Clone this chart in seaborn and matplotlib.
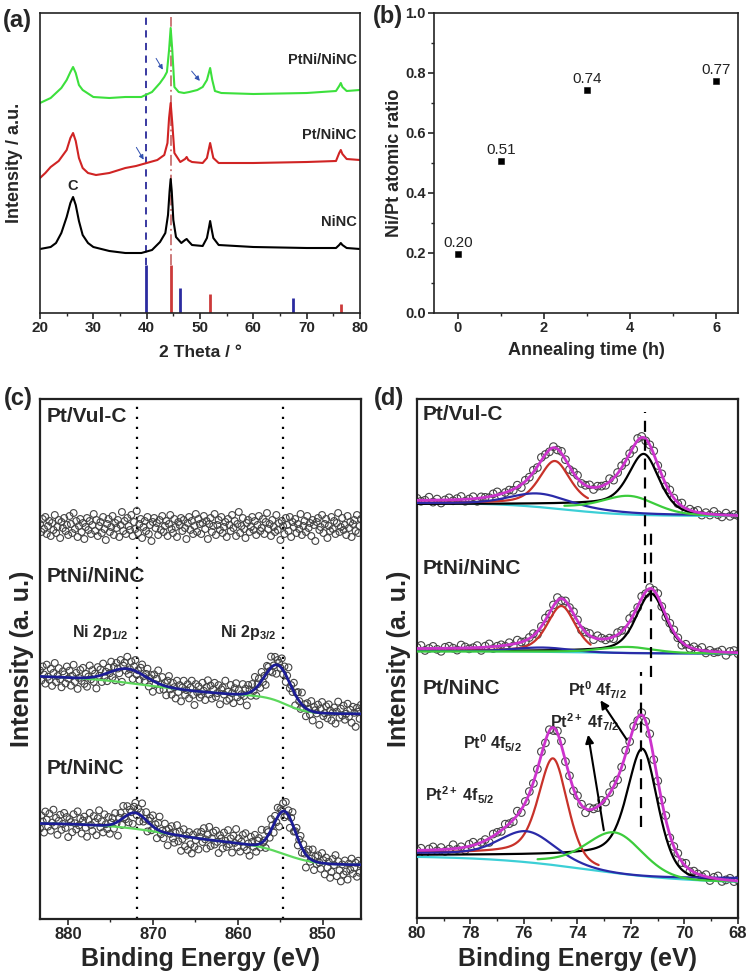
import numpy as np
import matplotlib
matplotlib.use("Agg")
import matplotlib.pyplot as plt
from matplotlib.ticker import MultipleLocator, FormatStrFormatter
import seaborn as sns

sns.set_style("ticks")
plt.rcParams['font.family'] = ['Liberation Sans', 'DejaVu Sans']
plt.rcParams['font.weight'] = 'bold'
plt.rcParams['axes.labelweight'] = 'bold'
plt.rcParams['mathtext.fontset'] = 'custom'
plt.rcParams['mathtext.rm'] = 'Liberation Sans:bold'
plt.rcParams['mathtext.bf'] = 'Liberation Sans:bold'
plt.rcParams['mathtext.it'] = 'Liberation Sans:bold:italic'

# ---------------- (a) XRD patterns ----------------
tt_ninc = [20, 22, 23, 24, 25, 25.7, 26.2, 26.7, 27.3, 28, 29, 30, 33, 36, 39, 41, 42.5, 43.5, 44.0, 44.3,
           44.5, 44.7, 45.0, 45.5, 46.5, 47.2, 47.5, 47.8, 48.5, 50.5, 51.3, 51.7, 51.9, 52.1, 52.5, 53.5,
           60, 70, 75.5, 76.1, 76.4, 76.7, 77.5, 80]
i_ninc = [64, 66, 70, 80, 96, 110, 116, 108, 92, 78, 70, 66, 62, 60, 60, 63, 71, 80, 98, 122,
          134, 122, 93, 76, 70, 73, 74, 72, 68, 67, 75, 86, 92, 86, 75, 68,
          66, 65, 65, 68, 70, 68, 65, 64]

tt_ptninc = [20, 21, 22, 23.5, 25, 25.7, 26.2, 26.7, 27.3, 28, 29, 30.5, 33, 36, 38, 40, 42, 43.3, 43.9, 44.2,
             44.5, 44.8, 45.2, 46.3, 47.2, 47.5, 47.8, 48.5, 50.5, 51.3, 51.7, 51.9, 52.1, 52.5, 53.5,
             60, 70, 75.5, 76.1, 76.4, 76.7, 77.5, 80]
i_ptninc = [135, 140, 146, 152, 163, 175, 180, 172, 155, 145, 140, 138, 140, 145, 147, 150, 153, 158, 170, 195,
            210, 190, 160, 151, 154, 156, 153, 151, 150, 155, 165, 170, 165, 155, 150,
            150, 151, 152, 160, 163, 159, 154, 153]

tt_ptni = [20, 22, 24, 25, 25.7, 26.2, 26.7, 27.3, 28, 30, 33, 36, 39, 41, 42.5, 43.3, 43.8, 44.2, 44.5, 44.8,
           45.2, 46, 47, 48, 49.5, 50.5, 51.3, 51.9, 52.3, 52.8, 54, 60, 70, 75.5, 76.1, 76.4, 76.7, 77.5, 80]
i_ptni = [210, 215, 225, 233, 241, 246, 240, 228, 223, 216, 215, 216, 216, 221, 230, 236, 241, 263, 285, 263,
          226, 221, 220, 221, 223, 226, 233, 245, 233, 222, 220, 219, 220, 222, 227, 230, 226, 222, 223]

pt_ref_pos = [39.8, 46.2, 67.5]
pt_ref_int = [48, 25, 15]
ni_ref_pos = [44.5, 51.9, 76.4]
ni_ref_int = [48, 19, 9]

# ---------------- (b) Ni/Pt ratio ----------------
anneal_h = [0, 1, 3, 6]
ni_pt_ratio = [0.195, 0.505, 0.742, 0.772]
ratio_text = ["0.20", "0.51", "0.74", "0.77"]

# ---------------- (c) Ni 2p ----------------
vulc_ni_level = 392
vulc_ni_res = [3, -5, 8, -2, 10, -7, 1, 6, -9, 4, -3, 12, -6, 0, 7, -11, 5, -1, 9, -4, 2, -8, 11, 3, -6, 14, -2, 6,
               -10, 1, 8, -5, 4, -12, 0, 9, -3, 6, -7, 2, 13, -4, 7, -9, 1, 5, -6, 10, -2, -13, 3, 8, -5, 0, 11, -8,
               4, -1, 7, -10, 2, 15, -4, 6, -7, 9, 1, -3, 12, -9, 5, -2, 16, -6, 3, 8, -11, 0, 6, -4, 10, -7, 2,
               -14, 5, 9, -1, 4, -8, 7, -3, 11, -5, 1, 6, -9, 3, 12, -2, -6, 8, 0, -10, 5, 2, 9, -4, 7, -1, -12, 4,
               10, -3, 6, -7, 1, 13, -5, 8, 3,
               -7, 4, 11, -2, 6, -12, 3, 9, -5, 1, 13, -8, 2, 7, -3, 10, -6, 0, 5, -10, 8, 2, -4, 12, -1, 6, -9, 3,
               15, -6, 1, 9, -2, -11, 4, 7, -5, 0, 10, -3, 6, -8, 2, 11, -4, -1, 8, -7, 5, 14, -2, 3, -9, 7, 0, -5,
               12, -3, 4, -13, 6, 1, -7, 9, 2, -4, 10, -10, 5, 0, 8, -6, 3, -2, 13, -8, 1, 6, -5, 11, -1, 4, -9, 7,
               2, -14, 5, 9, -3, 0, 12, -6, 3, 8, -11, 1, -4, 10, -2, 6, -7, 4, 14, -5, 0, 9, -3, 2, -8, 11, -1, 5,
               -10, 3, 7, -4, 12, -6, 1, 8]
ptni_ni_bg_right = 205
ptni_ni_bg_steps = [[22, 870, 5], [17, 854.3, 1.2]]     # size, centre, width
ptni_ni_peaks = [[855.3, 36, 3.5], [873.0, 14, 5.0]]    # centre, height, fwhm
ptni_ni_res = [6, -4, 10, 2, -7, 12, 0, -3, 8, -9, 4, 14, -5, 1, 9, -2, -10, 6, 3, -6, 11, -1, 7, -8, 2, 13, -4, 5,
               -11, 0, 8, -3, 10, -6, 4, -9, 1, 12, -2, 7, -5, 3, -12, 9, 0, 6, -7, 11, -3, 2, -8, 5, -1, 10, -6, 4,
               -10, 7, 1, -4, 9, -13, 3, 6, -2, 12, -5, 0, 8, -9, 4, 11, -3, 2, -7, 6, 10, -1, -5, 3, 9, -8, 1, 5,
               -11, 7, -2, 4, 13, -6, 0, 8, -4, 3, -9, 6, 11, -2, -7, 5, 1, -10, 8, -3, 4, -12, 2, 9, -5, 0, 6, -8,
               3, 10, -4, -14, 7, -1, 5, -6,
               -3, 9, 1, -8, 5, 12, -2, 7, -6, 3, 10, -4, 0, 8, -11, 4, 6, -1, 13, -7, 2, -5, 9, 1, -9, 6, 11, -3,
               4, -7, 0, 10, -2, 5, -12, 8, 3, -4, 7, -1, 12, -8, 2, 6, -5, 9, -3, 1, -10, 7, 4, -2, 11, -6, 0, 8,
               -9, 5, 3, -1, 10, -4, 6, -7, 2, 13, -5, 1, -3, 9, -11, 4, 7, 0, -6, 12, -2, 3, -8, 6, 1, -4, 10, -9,
               5, 2, -1, 8, -12, 4, 11, -3, 0, 7, -5, 9, 3, -7, 1, 6, -10, 2, 12, -4, 5, -2, 8, -6, 0, 10, -3, 4,
               -9, 7, 1, -13, 6, 2, -5, 9]
ptnc_ni_bg_right = 54
ptnc_ni_bg_steps = [[22, 868, 4], [20, 854.5, 1.8]]
ptnc_ni_peaks = [[854.5, 43, 3.0], [872.1, 16, 3.2]]
ptnc_ni_res = [-5, 8, 2, -9, 12, 4, -3, 10, -7, 1, 14, -2, 6, -11, 3, 9, -6, 0, 11, -4, 7, -13, 5, 2, -8, 10, 1, -5,
               13, -1, 6, -9, 4, 8, -3, -12, 5, 12, 0, -6, 9, 3, -10, 7, 15, -2, 4, -7, 11, 1, -4, 8, -9, 2, 6, -5,
               10, -1, -14, 3, 7, -6, 12, 0, -3, 9, -8, 4, 1, -11, 6, 10, -2, 5, -7, 3, 13, -4, 0, 8, -10, 2, 6, -5,
               11, -1, 4, -9, 7, 14, -3, 1, -6, 9, 3, -12, 5, 0, 8, -4, -8, 2, 10, -6, 4, -15, -3, 7, -10, 1, -13,
               5, -7, -16, 3, -9, -2, 6, -11, 2,
               7, -3, 11, 0, -9, 5, 13, -6, 2, 8, -4, 10, -1, -12, 6, 3, -7, 9, 1, -5, 12, -2, 4, -10, 7, 0, 14, -4,
               5, -8, 2, 9, -3, 11, -6, 1, -11, 8, 3, -2, 10, -7, 4, 6, -4, 13, -1, 0, -9, 7, 3, -5, 11, 2, -8, 6,
               -3, 9, -12, 4, 1, 8, -6, 10, -2, 5, -10, 3, 12, -4, 0, 7, -7, 2, 9, -5, 6, -1, -13, 4, 8, -3, 1, 11,
               -9, 5, -2, 7, 0, -6, 10, 3, -11, 6, -4, 2, -14, -8, 5, -1, 9, -12, 3, -6, -17, 0, -10, 4, -7, -15, 1,
               -5, 6, -9, -3, 2, -12, 4, -8, 0]
ni_guides = [871.9, 854.7]

# ---------------- (d) Pt 4f ----------------
# background: [right level, step, centre, width]; peak: [centre, height, fwhm, lorentz share]
# component order: Pt0 4f7/2, Pt0 4f5/2, Pt2+ 4f5/2, Pt2+ 4f7/2
vulc_pt_bg = [402, 13, 74.5, 1.2]
vulc_pt_env_bg = [401, 16, 71.3, 0.6]
vulc_pt_peaks = [[71.5, 56, 1.35, 0.45], [74.85, 43, 1.35, 0.45], [75.5, 11, 2.4, 0.2], [72.0, 15, 2.2, 0.2]]
vulc_pt_comp_bg = [[402, 12, 71.5, 0.45], [413, 2, 74.85, 0.45], [403, 12, 73.5, 1.0], [402, 10, 72.0, 0.9]]
vulc_pt_span = [[68, 80], [73.6, 80], [68, 80], [68, 74.5]]
vulc_pt_res = [2, -1, 0, 3, -2, 1, -3, 0, 2, -1, 1, 3, -2, 0, 2, -3, 1, 0, -1, 2, 3, -2, 0, 1, -1, 2, -3, 1, 0, 2,
               -1, 3, 0, -2, 1, -1, 2, 0, -3, 1, 3, -1, 0, 2, -2, 1, 0, -1, 3, -2, 1, 2, -1, 0, -3, 2, 1, -2, 0, 3,
               -1, 1, -2, 2, 0, -1, 3, -3, 1, 0, 2, -2, 1, -1, 3, 0, -2, 2, -1, 1, 0]

ptni_pt_bg = [264.5, 2.5, 74.0, 1.5]
ptni_pt_env_bg = [264, 5, 71.3, 0.6]
ptni_pt_peaks = [[71.25, 58.7, 1.3, 0.45], [74.6, 46, 1.25, 0.45], [75.3, 4, 2.4, 0.2], [72.1, 5.5, 2.2, 0.2]]
ptni_pt_comp_bg = [[264.5, 2.5, 71.25, 0.45], [265, 2, 74.6, 0.45], [264.5, 2.5, 74.0, 1.0], [264.5, 2, 72.0, 0.9]]
ptni_pt_span = [[68, 80], [73.5, 80], [68, 80], [68, 80]]
ptni_pt_res = [1, 3, -2, 0, 2, -1, -3, 1, 2, 0, -2, 3, 1, -1, 0, 2, -3, 1, 3, -2, 0, 1, -1, 2, -2, 3, 0, -1, 1, 2,
               -3, 0, 2, -1, 1, 3, -2, 0, -1, 2, 1, -3, 0, 2, -2, 3, 1, -1, 0, -2, 2, 1, -3, 3, 0, -1, 2, -2, 1, 0,
               3, -1, -2, 1, 2, 0, -3, 1, -1, 2, 0, 3, -2, 1, -1, 0, 2, -3, 1, 2, -1]

ptnc_pt_bg = [35, 27, 73.6, 1.9]
ptnc_pt_env_bg = [34, 32, 71.0, 0.6]
ptnc_pt_peaks = [[71.55, 120, 1.35, 0.45], [74.9, 104, 1.3, 0.45], [75.9, 25, 2.3, 0.2], [72.55, 38, 2.4, 0.2]]
ptnc_pt_comp_bg = [[35, 28, 71.55, 0.45], [46, 19, 74.9, 0.45], [40, 25, 74.0, 1.0], [36, 22, 72.5, 0.9]]
ptnc_pt_span = [[68, 80], [73.2, 80], [68, 80], [68, 75.5]]
ptnc_pt_res = [0, 2, -3, 1, 3, -1, 2, -2, 0, 4, -1, 1, -3, 2, 3, -2, 0, 1, -4, 2, 1, -1, 3, 0, -2, 4, -3, 1, 2, -1,
               0, 3, -2, 1, -3, 2, 4, -1, 0, -2, 3, 1, -4, 2, 0, -1, 3, -3, 1, 2, -2, 0, 4, -1, 1, -3, 2, 0, 3, -2,
               -1, 1, 4, -3, 0, 2, -1, 3, -2, 1, 0, -1, 2, -3, 1, 3, -2, 0, 2, -1, 1]

# dashed guides in (d): x, y from, y to
pt_guides = [[71.48, 335, 506], [71.25, 241, 391], [71.63, 91, 246]]

comp_colors = ['black', '#c8322a', '#2a2aa8', '#3ccc3c']


def sig(x, p):
    right, size, c, w = p
    return right + size / (1 + np.exp(-(x - c) / w))


def pv(x, p):
    c, h, fwhm, eta = p
    r2 = ((x - c) / fwhm) ** 2
    return h * ((1 - eta) * np.exp(-4 * np.log(2) * r2) + eta / (1 + 4 * r2))


def ni_bg(x, right, steps):
    y = np.full(len(x), float(right))
    for size, c, w in steps:
        y = y + size / (1 + np.exp(-(x - c) / w))
    return y


def ni_fit(x, right, steps, peaks):
    y = ni_bg(x, right, steps)
    for c, h, f in peaks:
        y = y + pv(x, [c, h, f, 0.0])
    return y


def open_circles(ax, x, y, ms=26):
    sns.scatterplot(x=x, y=y, ax=ax, s=ms, marker='o', color='#555555', linewidth=0.8, zorder=2)
    ax.collections[-1].set_facecolor('none')
    ax.collections[-1].set_edgecolor('#444444')


W, H = 751, 980
fig = plt.figure(figsize=(W / 100, H / 100), dpi=100)


def box(l, t, r, b):
    return [l / W, 1 - b / H, (r - l) / W, (b - t) / H]


ax_a = fig.add_axes(box(40, 13, 360, 313))
ax_b = fig.add_axes(box(434, 13, 738, 313))
ax_c = fig.add_axes(box(40, 399, 361, 919))
ax_d = fig.add_axes(box(417, 399, 738, 918))

# ---------- (a) ----------
ax = ax_a
ax.vlines(pt_ref_pos, 0, pt_ref_int, color='#2b2ba0', lw=2)
ax.vlines(ni_ref_pos, 0, ni_ref_int, color='#cc3a3a', lw=2)
ax.vlines([pt_ref_pos[0]], pt_ref_int[0], 296, color='#2a2a9a', lw=1.3, linestyles=(0, (4, 3)))
ax.vlines([ni_ref_pos[0]], ni_ref_int[0], 296, color='#c87070', lw=1.3, linestyles=(0, (6, 2, 1, 2)))
sns.lineplot(x=tt_ninc, y=i_ninc, ax=ax, color='black', lw=1.5)
sns.lineplot(x=tt_ptninc, y=i_ptninc, ax=ax, color='#d02424', lw=1.5)
sns.lineplot(x=tt_ptni, y=i_ptni, ax=ax, color='#3ce03c', lw=1.5)
for tail, head in [((41.5, 257), (43.3, 241)), ((48.1, 244), (50.3, 230)), ((37.8, 168), (39.7, 151))]:
    ax.annotate('', xy=head, xytext=tail,
                arrowprops=dict(arrowstyle='-|>', color='#3050b0', lw=0.7, mutation_scale=7))
ax.text(79.4, 253, 'PtNi/NiNC', ha='right', va='center', fontsize=10.5)
ax.text(79.4, 178, 'Pt/NiNC', ha='right', va='center', fontsize=10.5)
ax.text(79.4, 91, 'NiNC', ha='right', va='center', fontsize=10.5)
ax.text(26.2, 127, 'C', ha='center', va='center', fontsize=10.5)
ax.set_xlim(20, 80)
ax.set_ylim(0, 300)
ax.set_yticks([])
ax.xaxis.set_major_locator(MultipleLocator(10))
ax.xaxis.set_minor_locator(MultipleLocator(5))
ax.set_xlabel('2 Theta / °', fontsize=12.5)
ax.set_ylabel('Intensity / a.u.', fontsize=13)
ax.xaxis.set_label_coords(0.5, -0.107)
ax.yaxis.set_label_coords(-0.053, 0.5)

# ---------- (b) ----------
ax = ax_b
sns.scatterplot(x=anneal_h, y=ni_pt_ratio, ax=ax, marker='s', color='black', edgecolor='black', s=22, zorder=3)
for xv, yv, t in zip(anneal_h, ni_pt_ratio, ratio_text):
    ax.annotate(t, (xv, yv), xytext=(0, 3), textcoords='offset points', ha='center', va='bottom',
                fontsize=11, fontweight='normal', color='#222222')
ax.set_xlim(-0.55, 6.5)
ax.set_ylim(0, 1.0)
ax.xaxis.set_major_locator(MultipleLocator(2))
ax.xaxis.set_minor_locator(MultipleLocator(1))
ax.yaxis.set_major_locator(MultipleLocator(0.2))
ax.yaxis.set_minor_locator(MultipleLocator(0.1))
ax.yaxis.set_major_formatter(FormatStrFormatter('%.1f'))
ax.set_xlabel('Annealing time (h)', fontsize=13)
ax.set_ylabel('Ni/Pt atomic ratio', fontsize=13)
ax.xaxis.set_label_coords(0.5, -0.097)
ax.yaxis.set_label_coords(-0.102, 0.5)

# ---------- (c) ----------
ax = ax_c
e_v = np.linspace(883.3, 845.5, len(vulc_ni_res))
open_circles(ax, e_v, vulc_ni_level + np.array(vulc_ni_res), ms=24)
e_1 = np.linspace(883.3, 845.5, len(ptni_ni_res))
open_circles(ax, e_1, ni_fit(e_1, ptni_ni_bg_right, ptni_ni_bg_steps, ptni_ni_peaks) + np.array(ptni_ni_res), ms=24)
e_2 = np.linspace(883.3, 845.5, len(ptnc_ni_res))
open_circles(ax, e_2, ni_fit(e_2, ptnc_ni_bg_right, ptnc_ni_bg_steps, ptnc_ni_peaks) + np.array(ptnc_ni_res), ms=24)
ef = np.linspace(883.3, 845.5, 500)
for right, steps, peaks in [(ptni_ni_bg_right, ptni_ni_bg_steps, ptni_ni_peaks),
                            (ptnc_ni_bg_right, ptnc_ni_bg_steps, ptnc_ni_peaks)]:
    sns.lineplot(x=ef, y=ni_bg(ef, right, steps), ax=ax, color='#5cd85c', lw=1.6, zorder=3)
    sns.lineplot(x=ef, y=ni_fit(ef, right, steps, peaks), ax=ax, color='#1c1c96', lw=2.0, zorder=4)
for g in ni_guides:
    ax.axvline(g, color='black', lw=1.6, ls=(0, (1, 3.5)), zorder=1)
ax.text(882.5, 503, 'Pt/Vul-C', fontsize=15, va='center')
ax.text(882.5, 342, 'PtNi/NiNC', fontsize=15, va='center')
ax.text(882.5, 151, 'Pt/NiNC', fontsize=15, va='center')
ax.text(876.2, 287, 'Ni 2p$_{1/2}$', fontsize=11.5, ha='center', va='center')
ax.text(858.8, 287, 'Ni 2p$_{3/2}$', fontsize=11.5, ha='center', va='center')
ax.set_xlim(883.3, 845.5)
ax.set_ylim(0, 520)
ax.set_yticks([])
ax.xaxis.set_major_locator(MultipleLocator(10))
ax.xaxis.set_minor_locator(MultipleLocator(5))
ax.set_xlabel('Binding Energy (eV)', fontsize=18)
ax.set_ylabel('Intensity (a. u.)', fontsize=18)
ax.xaxis.set_label_coords(0.5, -0.054)
ax.yaxis.set_label_coords(-0.019, 0.5)

# ---------- (d) ----------
ax = ax_d
ef = np.linspace(80, 68, 600)
for bg, env_bg, peaks, comp_bg, span, res in [
        (vulc_pt_bg, vulc_pt_env_bg, vulc_pt_peaks, vulc_pt_comp_bg, vulc_pt_span, vulc_pt_res),
        (ptni_pt_bg, ptni_pt_env_bg, ptni_pt_peaks, ptni_pt_comp_bg, ptni_pt_span, ptni_pt_res),
        (ptnc_pt_bg, ptnc_pt_env_bg, ptnc_pt_peaks, ptnc_pt_comp_bg, ptnc_pt_span, ptnc_pt_res)]:
    er = np.linspace(80, 68, len(res))
    raw = sig(er, env_bg) + sum(pv(er, p) for p in peaks) + np.array(res)
    open_circles(ax, er, raw, ms=30)
    sns.lineplot(x=ef, y=sig(ef, bg), ax=ax, color='#3ccfd6', lw=1.6, zorder=3)
    for p, b, (lo, hi), col in zip(peaks, comp_bg, span, comp_colors):
        m = (ef >= lo) & (ef <= hi)
        sns.lineplot(x=ef[m], y=(sig(ef, b) + pv(ef, p))[m], ax=ax, color=col, lw=1.6, zorder=3)
    env = sig(ef, env_bg) + sum(pv(ef, p) for p in peaks)
    sns.lineplot(x=ef, y=env, ax=ax, color='#cc33cc', lw=2.0, zorder=4)
for xg, y0, y1 in pt_guides:
    ax.vlines(xg, y0, y1, color='black', lw=1.6, linestyles=(0, (5, 3.5)), zorder=5)
ax.text(79.8, 503, 'Pt/Vul-C', fontsize=15, va='center')
ax.text(79.8, 350, 'PtNi/NiNC', fontsize=15, va='center')
ax.text(79.8, 230, 'Pt/NiNC', fontsize=15, va='center')
ax.text(73.25, 228, 'Pt$^0$ 4f$_{7/2}$', fontsize=11.5, ha='center', va='center')
ax.text(73.75, 196, 'Pt$^{2+}$ 4f$_{7/2}$', fontsize=11.5, ha='center', va='center')
ax.text(77.2, 175, 'Pt$^0$ 4f$_{5/2}$', fontsize=11.5, ha='center', va='center')
ax.text(78.4, 123, 'Pt$^{2+}$ 4f$_{5/2}$', fontsize=11.5, ha='center', va='center')
for tail, head in [((72.1, 176), (73.2, 220)), ((73.0, 85), (73.62, 186))]:
    ax.annotate('', xy=head, xytext=tail,
                arrowprops=dict(arrowstyle='-|>', color='black', lw=1.5, mutation_scale=12))
ax.set_xlim(80, 68)
ax.set_ylim(0, 519)
ax.set_yticks([])
ax.xaxis.set_major_locator(MultipleLocator(2))
ax.xaxis.set_minor_locator(MultipleLocator(1))
ax.set_xlabel('Binding Energy (eV)', fontsize=18)
ax.set_ylabel('Intensity (a. u.)', fontsize=18)
ax.xaxis.set_label_coords(0.5, -0.056)
ax.yaxis.set_label_coords(-0.019, 0.5)

for ax, lw, ls in [(ax_a, 1.2, 11), (ax_b, 1.2, 10.5), (ax_c, 1.6, 12), (ax_d, 1.6, 12)]:
    for s in ax.spines.values():
        s.set_linewidth(lw)
        s.set_color('#222222')
    ax.tick_params(which='major', direction='out', length=4, width=1.2, labelsize=ls, pad=2)
    ax.tick_params(which='minor', direction='out', length=2.5, width=1.0)

for lab, x, y in [('(a)', 3, 20), ('(b)', 373, 17), ('(c)', 4, 398), ('(d)', 374, 398)]:
    fig.text(x / W, 1 - y / H, lab, fontsize=17, va='center', ha='left')

fig.savefig('out.png', dpi=100)
